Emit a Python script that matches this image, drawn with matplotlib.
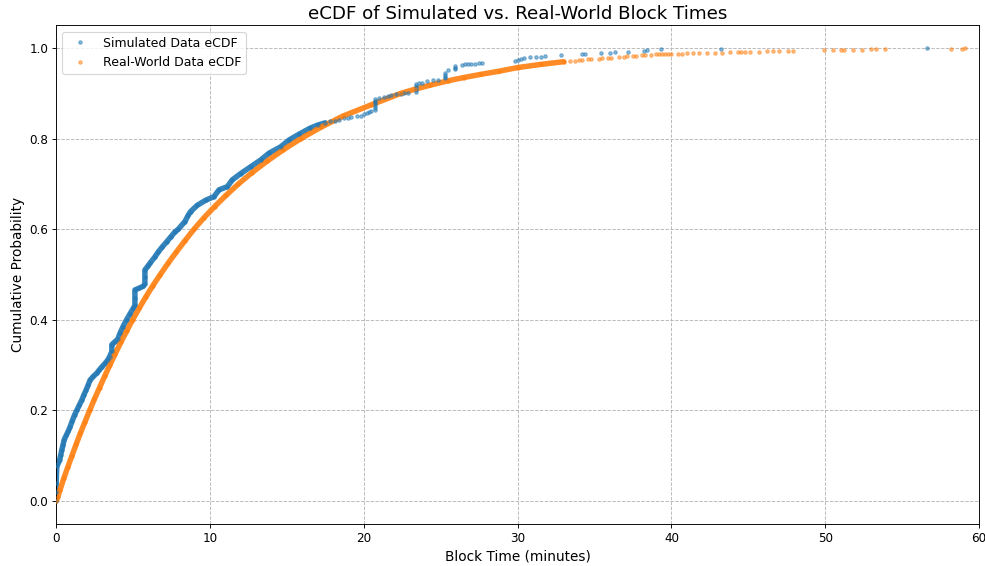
import numpy as np
import matplotlib
matplotlib.use('Agg')
import matplotlib.pyplot as plt

OUT_PNG = 'out.png'
FIG_DPI = 985 / 12

# ── 시뮬레이션 블록 시간 eCDF (분, 누적확률) ─────────────────────
sim_t = [0.00, 0.00, 0.00, 0.04, 0.13, 0.22, 0.30, 0.37, 0.45, 0.52, 0.66,
         0.80, 0.91, 1.05, 1.20, 1.34, 1.50, 1.67, 1.80, 1.95, 2.08, 2.21,
         2.42, 2.64, 2.80, 2.97, 3.19, 3.35, 3.47, 3.62, 3.62, 3.80, 4.00,
         4.15, 4.35, 4.58, 4.80, 5.01, 5.12, 5.12, 5.12, 5.40, 5.66, 5.77,
         5.77, 5.77, 5.95, 6.10, 6.40, 6.64, 6.90, 7.18, 7.45, 7.72, 7.94,
         8.37, 8.59, 8.74, 9.18, 9.72, 10.26, 10.59, 11.13, 11.45, 12.00,
         12.65, 13.30, 13.84, 14.60, 15.14, 15.80, 16.50, 17.00, 17.50]
sim_p = [0.000, 0.020, 0.040, 0.076, 0.083, 0.090, 0.102, 0.113, 0.124,
         0.135, 0.145, 0.155, 0.164, 0.177, 0.190, 0.200, 0.211, 0.223,
         0.234, 0.245, 0.256, 0.267, 0.275, 0.282, 0.289, 0.296, 0.304,
         0.311, 0.318, 0.330, 0.345, 0.351, 0.357, 0.370, 0.385, 0.400,
         0.413, 0.425, 0.432, 0.449, 0.466, 0.470, 0.474, 0.480, 0.495,
         0.510, 0.518, 0.525, 0.538, 0.550, 0.561, 0.572, 0.583, 0.594,
         0.600, 0.617, 0.631, 0.639, 0.653, 0.664, 0.672, 0.687, 0.694,
         0.709, 0.723, 0.738, 0.753, 0.768, 0.782, 0.797, 0.810, 0.823,
         0.830, 0.835]

# 꼬리 구간 (점이 드문드문 찍히는 부분)
sim_tail_t = [17.80, 18.10, 18.40, 18.70, 19.00, 19.20, 19.55, 19.80, 20.00,
              20.20, 20.35, 20.50, 20.70, 20.70, 20.70, 20.70, 20.70, 20.70,
              20.70, 21.00, 21.30, 21.60, 21.80, 22.10, 22.40, 22.60, 22.90,
              23.40, 23.40, 23.40, 23.40, 23.40, 23.60, 23.80, 24.10, 24.50,
              24.80, 25.30, 25.30, 25.30, 25.30, 25.50, 25.90, 25.90, 25.90,
              26.40, 26.60, 26.80, 27.00, 27.20, 27.50, 27.70, 29.80, 30.00,
              30.20, 30.40, 30.80, 31.20, 31.50, 31.80, 32.80, 34.20, 34.40,
              35.40, 36.00, 36.30, 37.20, 38.20, 38.40, 39.30, 43.20, 56.60]
sim_tail_p = [0.838, 0.840, 0.842, 0.845, 0.846, 0.847, 0.849, 0.851, 0.854,
              0.856, 0.858, 0.861, 0.864, 0.868, 0.872, 0.876, 0.880, 0.884,
              0.888, 0.890, 0.892, 0.894, 0.896, 0.898, 0.899, 0.900, 0.901,
              0.904, 0.908, 0.912, 0.916, 0.920, 0.922, 0.924, 0.927, 0.929,
              0.930, 0.933, 0.937, 0.941, 0.946, 0.951, 0.953, 0.957, 0.961,
              0.963, 0.964, 0.965, 0.966, 0.966, 0.967, 0.968, 0.972, 0.974,
              0.976, 0.978, 0.980, 0.981, 0.981, 0.982, 0.985, 0.986, 0.987,
              0.989, 0.990, 0.991, 0.992, 0.994, 0.995, 0.997, 0.998, 1.000]

# ── 실측 블록 시간 eCDF ───────────────────────────────────────────
real_t = [0.00, 0.10, 0.25, 0.50, 0.76, 1.03, 1.30, 1.58, 1.88, 2.18,
          2.49, 2.82, 3.15, 3.49, 3.84, 4.20, 4.58, 4.97, 5.39, 5.82,
          6.28, 6.77, 7.28, 7.82, 8.38, 8.96, 9.60, 10.30, 11.05, 11.85,
          12.73, 13.70, 14.75, 15.90, 17.20, 18.65, 20.50, 22.40, 23.30,
          24.30, 25.50, 26.50, 27.60, 28.80, 30.00, 31.50, 33.00]
real_p = [0.000, 0.008, 0.024, 0.050, 0.075, 0.100, 0.125, 0.150, 0.175,
          0.200, 0.225, 0.250, 0.275, 0.300, 0.325, 0.350, 0.375, 0.400,
          0.425, 0.450, 0.475, 0.500, 0.525, 0.550, 0.575, 0.600, 0.625,
          0.650, 0.675, 0.700, 0.725, 0.750, 0.775, 0.800, 0.825, 0.850,
          0.875, 0.900, 0.909, 0.918, 0.928, 0.935, 0.942, 0.949, 0.957,
          0.964, 0.970]

real_tail_t = [33.40, 33.70, 34.00, 34.20, 34.60, 34.80, 35.30, 35.50, 35.90,
               36.10, 36.60, 36.90, 37.10, 37.50, 37.70, 38.10, 38.30, 38.70,
               39.00, 39.20, 39.40, 39.60, 39.80, 40.00, 40.40, 40.70, 41.00,
               41.40, 41.80, 42.30, 42.80, 43.30, 43.80, 44.30, 44.50, 44.80,
               45.10, 45.70, 46.20, 46.60, 47.00, 47.60, 47.90, 49.90, 50.50,
               51.00, 51.20, 51.80, 52.40, 53.00, 53.30, 53.90, 58.20, 58.90,
               59.10]
real_tail_p = [0.971, 0.972, 0.973, 0.974, 0.975, 0.976, 0.977, 0.978,
               0.979, 0.979, 0.980, 0.981, 0.982, 0.983, 0.983, 0.984,
               0.985, 0.985, 0.986, 0.986, 0.987, 0.987, 0.987, 0.988,
               0.988, 0.988, 0.989, 0.989, 0.989, 0.990, 0.990, 0.990,
               0.991, 0.991, 0.991, 0.992, 0.992, 0.992, 0.993, 0.993,
               0.993, 0.994, 0.994, 0.995, 0.995, 0.995, 0.996, 0.996,
               0.996, 0.997, 0.997, 0.997, 0.998, 0.999, 1.000]

C_SIM  = '#1f77b4'
C_REAL = '#ff7f0e'


def draw_series(ax, body_t, body_p, tail_t, tail_p, color, label):
    # 촘촘한 구간은 선으로 메우고, 점은 전체에 찍는다
    ax.plot(body_t, body_p, '-', color=color, lw=4.8, alpha=0.9,
            solid_capstyle='round', solid_joinstyle='round', zorder=2)
    ax.plot(np.concatenate([body_t, tail_t]),
            np.concatenate([body_p, tail_p]),
            '.', color=color, alpha=0.5, label=label, zorder=3)


def main():
    fig = plt.figure(figsize=(12, 566 / FIG_DPI), dpi=FIG_DPI)
    ax = fig.add_axes([0.057, 0.075, 0.937, 0.880])

    draw_series(ax, sim_t, sim_p, sim_tail_t, sim_tail_p,
                C_SIM, 'Simulated Data eCDF')
    draw_series(ax, real_t, real_p, real_tail_t, real_tail_p,
                C_REAL, 'Real-World Data eCDF')

    ax.set_xlim(0, 60)
    ax.set_ylim(-0.05, 1.05)
    ax.set_title('eCDF of Simulated vs. Real-World Block Times', fontsize=16)
    ax.set_xlabel('Block Time (minutes)', fontsize=12)
    ax.set_ylabel('Cumulative Probability', fontsize=12)
    ax.tick_params(labelsize=10.5)
    ax.grid(True, linestyle='--', color='#b0b0b0', alpha=0.9)
    ax.legend(loc='upper left', fontsize=11)

    fig.savefig(OUT_PNG, dpi=FIG_DPI)
    plt.close(fig)


if __name__ == '__main__':
    main()
